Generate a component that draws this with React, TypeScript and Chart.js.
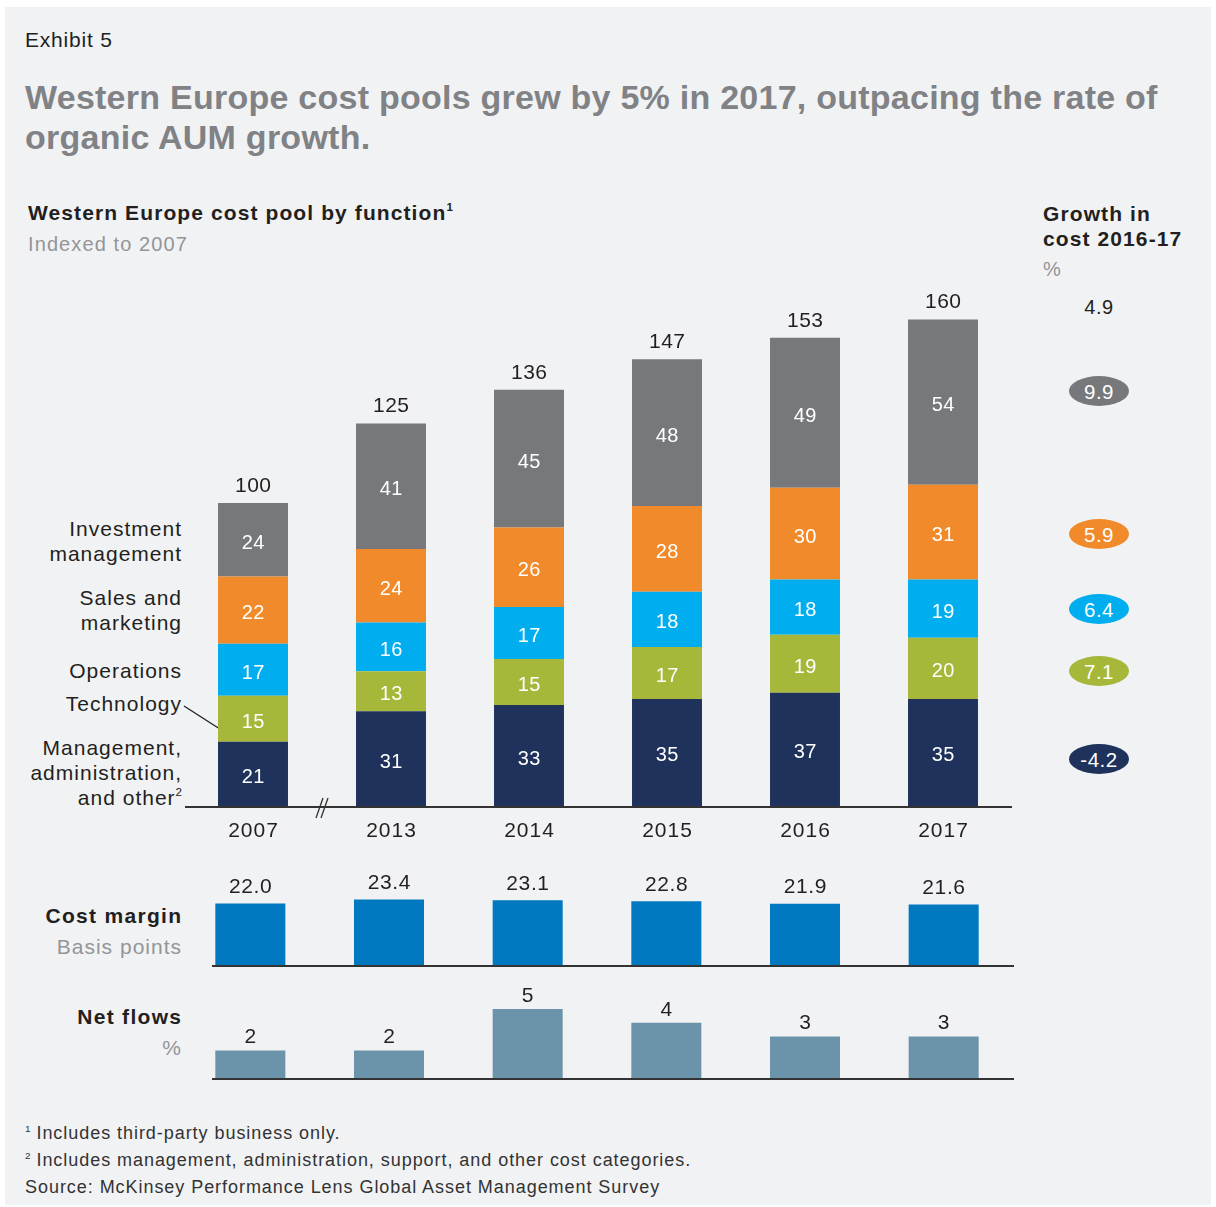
import React, { useEffect, useRef } from "react";
import { Chart, registerables } from "chart.js";
Chart.register(...registerables);

const years = ["2007", "2013", "2014", "2015", "2016", "2017"];
const mgmtAdmin = [21, 31, 33, 35, 37, 35];
const technology = [15, 13, 15, 17, 19, 20];
const operations = [17, 16, 17, 18, 18, 19];
const salesMarketing = [22, 24, 26, 28, 30, 31];
const investmentMgmt = [24, 41, 45, 48, 49, 54];
const totals = [100, 125, 136, 147, 153, 160];
const costMargin = [22.0, 23.4, 23.1, 22.8, 21.9, 21.6];
const netFlows = [2, 2, 5, 4, 3, 3];
const growthTotal = "4.9";
const growthValues = ["9.9", "5.9", "6.4", "7.1", "-4.2"];

const NAVY = "#1e325c";
const GREEN = "#a6b73a";
const BLUE = "#00aeef";
const ORANGE = "#f18a2a";
const GRAY = "#77787b";
const CM_BLUE = "#0079c0";
const NF_BLUE = "#6b94ab";
const BG = "#f1f2f4";
const TEXT = "#231f20";
const SUB = "#939598";
const FONT = "'Liberation Sans', Arial, Helvetica, sans-serif";

const growthColors = [GRAY, ORANGE, BLUE, GREEN, NAVY];
const growthY = [391, 534, 609, 671, 759];

function spacedText(ctx: any, text: string, x: number, y: number, spacing: number) {
  ctx.letterSpacing = spacing + "px";
  ctx.fillText(text, x + spacing / 2, y);
  ctx.letterSpacing = "0px";
}

function MainChart() {
  const ref = useRef<HTMLCanvasElement | null>(null);
  useEffect(() => {
    const labelsPlugin = {
      id: "mainLabels",
      afterDatasetsDraw(chart: any) {
        const ctx = chart.ctx;
        const area = chart.chartArea;
        ctx.save();
        ctx.textAlign = "center";
        ctx.textBaseline = "middle";
        ctx.font = `20px ${FONT}`;
        ctx.fillStyle = "#ffffff";
        chart.data.datasets.forEach((ds: any, di: number) => {
          const meta = chart.getDatasetMeta(di);
          meta.data.forEach((bar: any, i: number) => {
            spacedText(ctx, String(ds.data[i]), bar.x, (bar.y + bar.base) / 2 + 3.5, 0.5);
          });
        });
        const last = chart.getDatasetMeta(chart.data.datasets.length - 1);
        ctx.fillStyle = TEXT;
        ctx.font = `21px ${FONT}`;
        last.data.forEach((bar: any, i: number) => {
          spacedText(ctx, String(totals[i]), bar.x, bar.y - 17, 0.5);
        });
        // x labels
        const xs = chart.scales.x;
        years.forEach((y, i) => {
          spacedText(ctx, y, xs.getPixelForValue(i), area.bottom + 25, 1);
        });
        // axis line
        ctx.strokeStyle = "#333333";
        ctx.lineWidth = 2;
        ctx.beginPath();
        ctx.moveTo(area.left + 1, area.bottom + 1);
        ctx.lineTo(area.right, area.bottom + 1);
        ctx.stroke();
        // break mark
        ctx.lineWidth = 1.3;
        ctx.beginPath();
        ctx.moveTo(316, area.bottom + 12);
        ctx.lineTo(323, area.bottom - 8);
        ctx.moveTo(321, area.bottom + 12);
        ctx.lineTo(328, area.bottom - 8);
        ctx.stroke();
        ctx.restore();
      },
    };
    const chart = new Chart(ref.current as HTMLCanvasElement, {
      type: "bar",
      data: {
        labels: years,
        datasets: [
          { label: "Management, administration, and other", data: mgmtAdmin, backgroundColor: NAVY },
          { label: "Technology", data: technology, backgroundColor: GREEN },
          { label: "Operations", data: operations, backgroundColor: BLUE },
          { label: "Sales and marketing", data: salesMarketing, backgroundColor: ORANGE },
          { label: "Investment management", data: investmentMgmt, backgroundColor: GRAY },
        ],
      },
      options: {
        animation: false,
        responsive: false,
        events: [],
        layout: { padding: { left: 184, right: 204, top: 10, bottom: 54 } },
        datasets: { bar: { barPercentage: 0.507, categoryPercentage: 1, borderWidth: 0 } } as any,
        scales: {
          x: { display: false, stacked: true },
          y: { display: false, stacked: true, min: 0, max: 516 / 3.06 },
        },
        plugins: { legend: { display: false }, tooltip: { enabled: false } },
      },
      plugins: [labelsPlugin],
    });
    return () => chart.destroy();
  }, []);
  return (
    <canvas
      ref={ref}
      width={1216}
      height={580}
      style={{ position: "absolute", left: 0, top: 280, width: 1216, height: 580 }}
    />
  );
}

function SmallChart(props: {
  data: number[];
  color: string;
  top: number;
  height: number;
  padTop: number;
  padBottom: number;
  max: number;
  fmt: (v: number) => string;
  labelOffset: number;
}) {
  const ref = useRef<HTMLCanvasElement | null>(null);
  useEffect(() => {
    const plugin = {
      id: "smallLabels",
      afterDatasetsDraw(chart: any) {
        const ctx = chart.ctx;
        const area = chart.chartArea;
        ctx.save();
        ctx.textAlign = "center";
        ctx.textBaseline = "middle";
        ctx.font = `21px ${FONT}`;
        ctx.fillStyle = TEXT;
        const meta = chart.getDatasetMeta(0);
        meta.data.forEach((bar: any, i: number) => {
          spacedText(ctx, props.fmt(props.data[i]), bar.x, bar.y - props.labelOffset, 0.6);
        });
        ctx.strokeStyle = "#333333";
        ctx.lineWidth = 2;
        ctx.beginPath();
        ctx.moveTo(212, area.bottom + 1);
        ctx.lineTo(1014, area.bottom + 1);
        ctx.stroke();
        ctx.restore();
      },
    };
    const chart = new Chart(ref.current as HTMLCanvasElement, {
      type: "bar",
      data: {
        labels: years,
        datasets: [{ data: props.data, backgroundColor: props.color }],
      },
      options: {
        animation: false,
        responsive: false,
        events: [],
        layout: { padding: { left: 181, right: 203, top: props.padTop, bottom: props.padBottom } },
        datasets: { bar: { barPercentage: 0.505, categoryPercentage: 1, borderWidth: 0 } } as any,
        scales: {
          x: { display: false },
          y: { display: false, min: 0, max: props.max },
        },
        plugins: { legend: { display: false }, tooltip: { enabled: false } },
      },
      plugins: [plugin],
    });
    return () => chart.destroy();
  }, []);
  return (
    <canvas
      ref={ref}
      width={1216}
      height={props.height}
      style={{ position: "absolute", left: 0, top: props.top, width: 1216, height: props.height }}
    />
  );
}

const abs = (left: number, top: number, extra: React.CSSProperties = {}): React.CSSProperties => ({
  position: "absolute",
  left,
  top,
  whiteSpace: "nowrap",
  ...extra,
});

const supStyle: React.CSSProperties = { fontSize: "0.55em", verticalAlign: "0.75em", lineHeight: 0, letterSpacing: 0 };

function RightLabel(props: { lines: React.ReactNode[]; top: number; bold?: boolean; color?: string; spacing?: number }) {
  return (
    <div
      style={{
        position: "absolute",
        left: 0,
        width: 181,
        top: props.top,
        textAlign: "right",
        fontSize: 21,
        lineHeight: "25px",
        fontWeight: props.bold ? 700 : 400,
        color: props.color || TEXT,
        whiteSpace: "nowrap",
      }}
    >
      {props.lines.map((l, i) => (
        <div key={i} style={{ letterSpacing: (props.spacing ?? 1) + "px", marginRight: -(props.spacing ?? 1) }}>
          {l}
        </div>
      ))}
    </div>
  );
}

export default function App() {
  return (
    <div
      style={{
        position: "absolute",
        left: 0,
        top: 0,
        width: 1216,
        height: 1207,
        background: "#ffffff",
        fontFamily: FONT,
        color: TEXT,
        overflow: "hidden",
      }}
    >
      <div style={{ position: "absolute", left: 5, top: 7, width: 1206, height: 1198, background: BG }} />
      <div style={abs(25, 28, { fontSize: 21, lineHeight: "24px", letterSpacing: "0.8px" })}>Exhibit 5</div>
      <div
        style={abs(25, 77, {
          fontSize: 34,
          lineHeight: "40px",
          fontWeight: 700,
          color: "#808285",
          letterSpacing: "0.25px",
        })}
      >
        Western Europe cost pools grew by 5% in 2017, outpacing the rate of
        <br />
        organic AUM growth.
      </div>
      <div style={abs(28, 200, { fontSize: 21, lineHeight: "26px", fontWeight: 700, letterSpacing: "1.1px" })}>
        Western Europe cost pool by function<sup style={supStyle}>1</sup>
      </div>
      <div style={abs(28, 231, { fontSize: 20, lineHeight: "26px", color: SUB, letterSpacing: "1.1px" })}>
        Indexed to 2007
      </div>
      <div style={abs(1043, 200.5, { fontSize: 21, lineHeight: "25px", fontWeight: 700, letterSpacing: "1.1px" })}>
        Growth in
        <br />
        cost 2016-17
      </div>
      <div style={abs(1043, 256, { fontSize: 20, lineHeight: "26px", color: SUB })}>%</div>
      <div
        style={abs(1069, 294, { width: 60, textAlign: "center", fontSize: 20, lineHeight: "26px", letterSpacing: "0.5px" })}
      >
        {growthTotal}
      </div>
      {growthValues.map((v, i) => (
        <div
          key={i}
          style={abs(1069, growthY[i] - 15, {
            width: 60,
            height: 30,
            borderRadius: "50%",
            background: growthColors[i],
            color: "#ffffff",
            textAlign: "center",
            fontSize: 20.5,
            lineHeight: "31px",
            letterSpacing: "0.5px",
          })}
        >
          {v}
        </div>
      ))}

      <RightLabel lines={["Investment", "management"]} top={515.5} />
      <RightLabel lines={["Sales and", "marketing"]} top={584.5} />
      <RightLabel lines={["Operations"]} top={657.5} />
      <RightLabel lines={["Technology"]} top={690.5} />
      <RightLabel
        lines={["Management,", "administration,", <span>and other<sup style={supStyle}>2</sup></span>]}
        top={734.5}
      />
      <svg style={{ position: "absolute", left: 0, top: 0 }} width={1216} height={1207}>
        <line x1={184} y1={706} x2={223} y2={731} stroke="#231f20" strokeWidth={1.3} />
      </svg>

      <MainChart />

      <RightLabel lines={["Cost margin"]} top={902.5} bold spacing={1.3} />
      <RightLabel lines={["Basis points"]} top={933.5} color={SUB} />
      <SmallChart
        data={costMargin}
        color={CM_BLUE}
        top={860}
        height={120}
        padTop={25}
        padBottom={15}
        max={80 / 2.8}
        fmt={(v) => v.toFixed(1)}
        labelOffset={16}
      />

      <RightLabel lines={["Net flows"]} top={1003.5} bold spacing={1.3} />
      <RightLabel lines={["%"]} top={1034.5} color={SUB} />
      <SmallChart
        data={netFlows}
        color={NF_BLUE}
        top={985}
        height={105}
        padTop={5}
        padBottom={12}
        max={88 / 13.8}
        fmt={(v) => String(v)}
        labelOffset={13}
      />

      <div style={abs(25, 1120, { fontSize: 18, lineHeight: "26px", color: "#333333", letterSpacing: "0.95px" })}>
        <sup style={supStyle}>1</sup> Includes third-party business only.
      </div>
      <div style={abs(25, 1147, { fontSize: 18, lineHeight: "26px", color: "#333333", letterSpacing: "0.95px" })}>
        <sup style={supStyle}>2</sup> Includes management, administration, support, and other cost categories.
      </div>
      <div style={abs(25, 1174, { fontSize: 18, lineHeight: "26px", color: "#333333", letterSpacing: "0.95px" })}>
        Source: McKinsey Performance Lens Global Asset Management Survey
      </div>
    </div>
  );
}
